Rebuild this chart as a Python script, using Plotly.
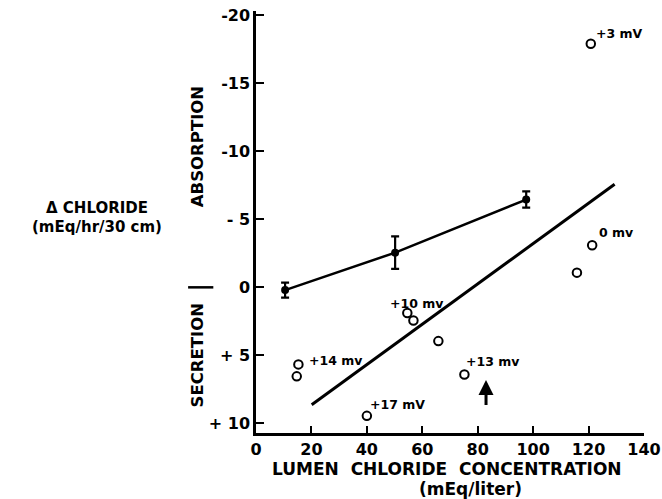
import plotly.graph_objects as go

# Mean values (closed circles) with error bars
mean_x = [10.5, 50.2, 97.5]
mean_y = [0.2, -2.55, -6.45]
mean_err = [0.55, 1.2, 0.6]

# Individual observations (open circles)
obs_x = [15.3, 14.7, 40.0, 54.6, 56.8, 65.8, 75.2, 115.8, 121.3, 120.8]
obs_y = [5.66, 6.54, 9.44, 1.89, 2.43, 3.95, 6.4, -1.08, -3.09, -17.9]

# Regression line endpoints
reg_x = [20.1, 129.4]
reg_y = [8.63, -7.57]

# Potential difference labels
lab_text = ["+3 mV", "0 mv", "+10 mv", "+13 mv", "+14 mv", "+17 mV"]
lab_x = [121.9, 123.0, 47.7, 75.1, 18.3, 40.5]
lab_y = [-18.65, -4.0, 1.2, 5.44, 5.4, 8.6]

# Arrow (tip and tail)
arrow_x = 83
arrow_tip = 6.8
arrow_tail = 8.75

x_ticks = [0, 20, 40, 60, 80, 100, 120, 140]
y_ticks = [-20, -15, -10, -5, 0, 5, 10]
y_ticktext = ["-20", "-15", "-10", "- 5", "0", "+ 5", "+ 10"]

FONT = "DejaVu Sans"

fig = go.Figure()

fig.add_trace(go.Scatter(
    x=reg_x, y=reg_y, mode="lines",
    line=dict(color="black", width=3), hoverinfo="skip", showlegend=False))

fig.add_trace(go.Scatter(
    x=mean_x, y=mean_y, mode="lines+markers",
    line=dict(color="black", width=2.5),
    marker=dict(color="black", size=8, symbol="circle"),
    error_y=dict(type="data", array=mean_err, color="black", thickness=2.2, width=4),
    showlegend=False))

fig.add_trace(go.Scatter(
    x=obs_x, y=obs_y, mode="markers",
    marker=dict(symbol="circle-open", color="black", size=8.5, line=dict(width=2)),
    showlegend=False))

for t, x, y in zip(lab_text, lab_x, lab_y):
    fig.add_annotation(x=x, y=y, text="<b>" + t + "</b>", showarrow=False,
                       xanchor="left", yanchor="middle",
                       font=dict(family=FONT, size=12.5, color="black"))

fig.add_annotation(x=arrow_x, y=arrow_tip, ax=arrow_x, ay=arrow_tail,
                   axref="x", ayref="y", xref="x", yref="y", text="",
                   showarrow=True, arrowhead=2, arrowsize=1, arrowwidth=3,
                   arrowcolor="black")

# Axis titles and side labels
fig.add_annotation(xref="paper", yref="paper", x=0.491, y=-0.085,
                   text="<b>LUMEN  CHLORIDE  CONCENTRATION</b>", showarrow=False,
                   xanchor="center", yanchor="middle",
                   font=dict(family=FONT, size=17, color="black"))
fig.add_annotation(xref="paper", yref="paper", x=0.554, y=-0.133,
                   text="<b>(mEq/liter)</b>", showarrow=False,
                   xanchor="center", yanchor="middle",
                   font=dict(family=FONT, size=17, color="black"))
fig.add_annotation(xref="paper", yref="y", x=-0.41, y=-5.8,
                   text="<b>\u0394 CHLORIDE</b>", showarrow=False,
                   xanchor="center", yanchor="middle",
                   font=dict(family=FONT, size=15, color="black"))
fig.add_annotation(xref="paper", yref="y", x=-0.41, y=-4.4,
                   text="<b>(mEq/hr/30 cm)</b>", showarrow=False,
                   xanchor="center", yanchor="middle",
                   font=dict(family=FONT, size=15, color="black"))
fig.add_annotation(xref="paper", yref="y", x=-0.152, y=-10.3,
                   text="<b>ABSORPTION</b>", showarrow=False, textangle=-90,
                   xanchor="center", yanchor="middle",
                   font=dict(family=FONT, size=16.5, color="black"))
fig.add_annotation(xref="paper", yref="y", x=-0.152, y=5.0,
                   text="<b>SECRETION</b>", showarrow=False, textangle=-90,
                   xanchor="center", yanchor="middle",
                   font=dict(family=FONT, size=16.5, color="black"))
fig.add_shape(type="line", xref="paper", yref="y", x0=-0.175, x1=-0.11, y0=0, y1=0,
              line=dict(color="black", width=2.5))

fig.update_layout(
    width=662, height=499,
    margin=dict(l=256, r=18, t=11, b=66),
    paper_bgcolor="white", plot_bgcolor="white",
    showlegend=False,
    xaxis=dict(range=[0, 140], tickvals=x_ticks, ticks="inside", ticklen=7,
               tickwidth=2, tickcolor="black", showline=True, linecolor="black",
               linewidth=2.5, showgrid=False, zeroline=False, automargin=False,
               tickfont=dict(family=FONT, size=16, color="black", weight="bold")),
    yaxis=dict(range=[10.7, -20.3], tickvals=y_ticks, ticktext=y_ticktext,
               ticks="inside", ticklen=8, tickwidth=2, tickcolor="black",
               showline=True, linecolor="black", linewidth=2.5, showgrid=False,
               zeroline=False, automargin=False,
               tickfont=dict(family=FONT, size=16, color="black", weight="bold")),
)

fig.write_html("out.html")
